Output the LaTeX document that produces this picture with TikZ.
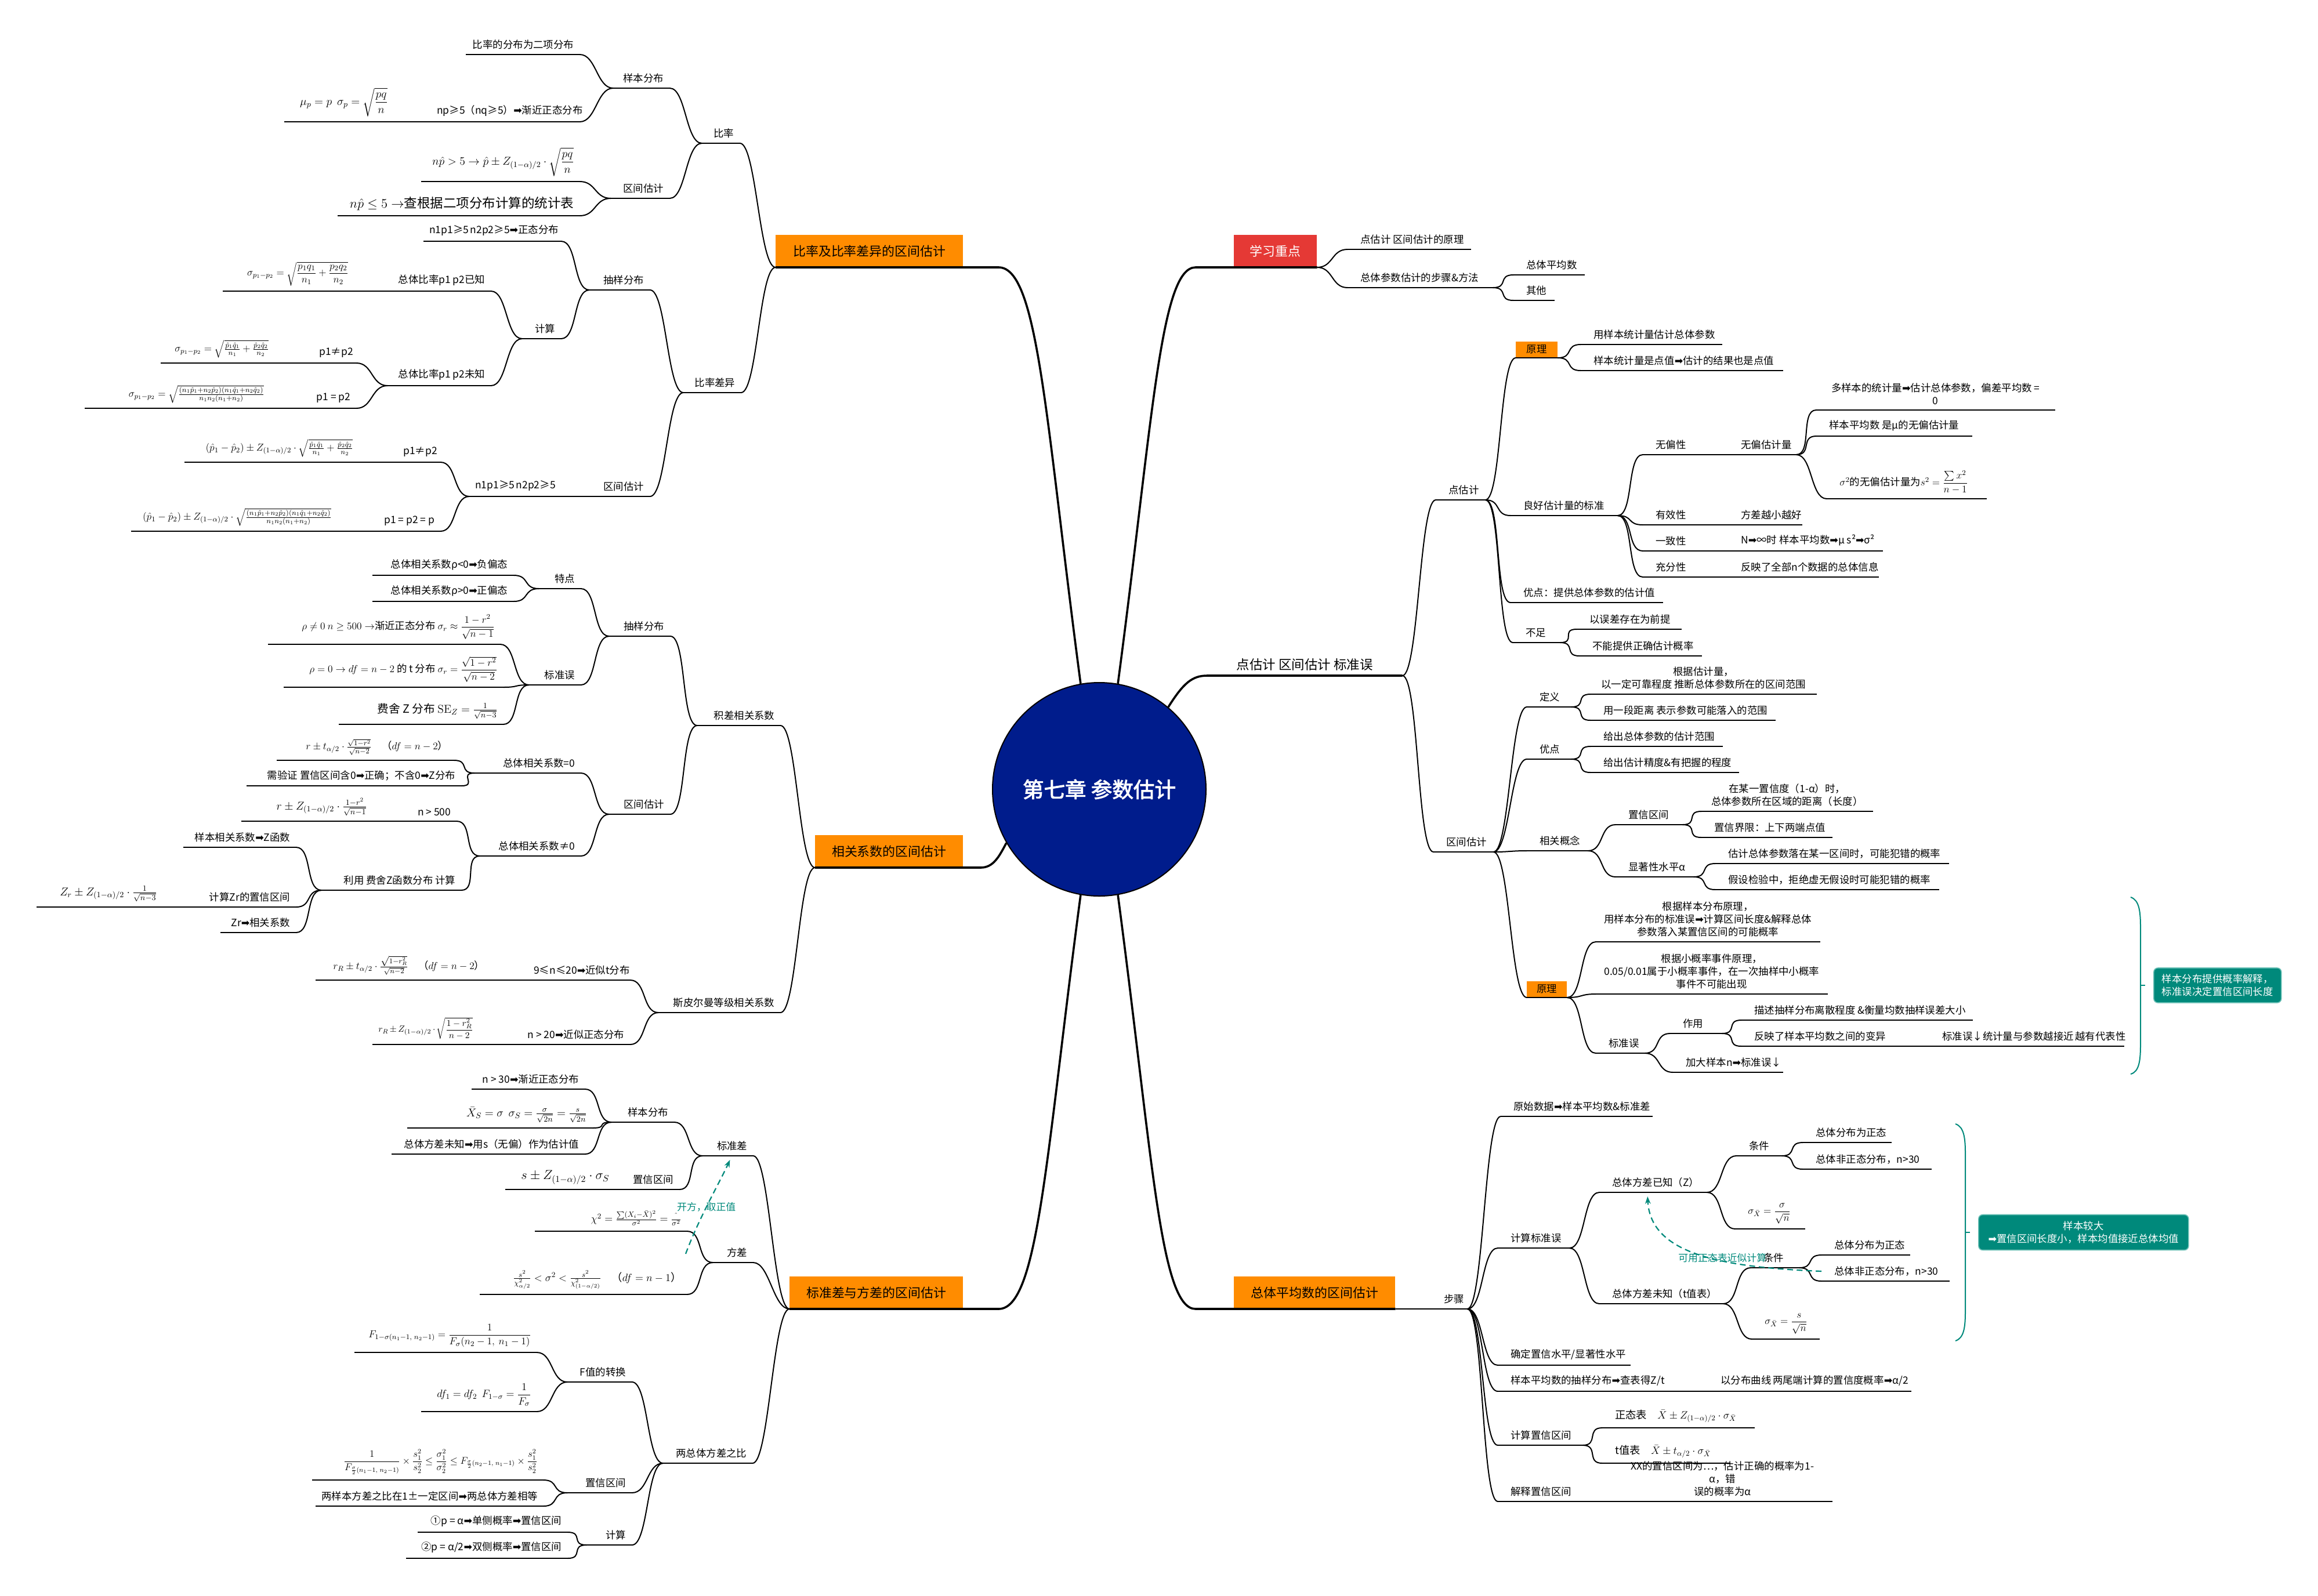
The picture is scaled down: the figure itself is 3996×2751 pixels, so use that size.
\RequirePackage{fix-cm}
\documentclass[tikz,border=0pt]{standalone}
\usepackage{amsmath}
\usepackage[no-math]{fontspec}
\setmainfont{Noto Sans CJK SC}[AutoFakeBold=2.5]
\newfontfamily\djv{DejaVu Sans}
\usetikzlibrary{arrows.meta}
\definecolor{mmorange}{HTML}{FF8C00}
\definecolor{mmred}{HTML}{E53935}
\definecolor{mmnavy}{HTML}{001C8C}
\definecolor{mmteal}{HTML}{00897B}
\definecolor{mmtealedge}{HTML}{6CC0B6}
\newcommand\ra{{\djv ➡}}
\newcommand\eqs{\char"3D\relax}
\newcommand\mmleaf[6]{%
  \pgfmathsetmacro\mmw{(#4-#3)*0.25-5}\relax
  \node[#1,text width=\mmw mm] (#2) at (#3,#5) {#6};\relax
  \draw[uline] (#2.south west) -- (#2.south east);\relax}
\relpenalty=10000
\binoppenalty=10000

\begin{document}
\begin{tikzpicture}
[%%%%%%%%%%%%%%%%%%%%%%%%%%%%%%
x=0.25mm, y=-0.25mm,
leaf/.style={anchor=south west, inner ysep=2.2mm, inner xsep=2.5mm, font=\fontsize{12.4}{15.5}\selectfont},
lleaf/.style={leaf, align=flush right},
rleaf/.style={leaf, align=flush left, execute at begin node={\noindent\hspace*{3mm}}},
cleaf/.style={leaf, align=flush center},
tag/.style={fill=mmorange, inner ysep=1.6mm},
uline/.style={line width=0.6mm},
link/.style={line width=0.5mm},
trunk/.style={line width=0.9mm},
topic/.style={anchor=south west, fill=mmorange, minimum height=14mm, inner sep=0pt, font=\fontsize{15.6}{18}\selectfont},
rel/.style={mmteal, line width=0.55mm, dash pattern=on 2.5mm off 1.6mm, -{Stealth[length=3.2mm,width=2.4mm]}},
rlabel/.style={inner sep=0.5mm, font=\fontsize{12}{14}\selectfont},
brace/.style={mmteal, line width=0.5mm},
note/.style={fill=mmteal, draw=mmtealedge, line width=0.4mm, rounded corners=1.8mm, text=white, align=center, inner sep=1mm, font=\fontsize{12.4}{15.5}\selectfont},
]%%%%%%%%%%%%%%%%%%%%%%%%%%%%%%
\useasboundingbox (0,0) rectangle (3996,2751);

% centre and main branches
\node[circle, fill=mmnavy, draw=black, line width=0.5mm, minimum size=92mm, text=white, font=\bfseries\fontsize{26}{30}\selectfont] (core) at (1895,1361) {第七章~参数估计};

\node[topic, minimum width=80.75mm] (b1) at (1337,461) {比率及比率差异的区间估计};
\node[topic, fill=mmred, text=white, minimum width=35.75mm] (b2) at (2127,461) {学习重点};
\node[topic, minimum width=63.75mm] (b4) at (1405,1496) {相关系数的区间估计};
\node[topic, minimum width=74.75mm] (b5) at (1361,2257) {标准差与方差的区间估计};
\node[topic, minimum width=69.5mm] (b6) at (2127,2257) {总体平均数的区间估计};
\mmleaf{cleaf,font=\fontsize{16}{18}\selectfont}{b3}{2081}{2417}{1165}{点估计~区间估计~标准误}

\draw[trunk] (core.100) .. controls (1803,728) and (1790,461) .. ([xshift=15.25mm]b1.south east) -- (b1.south west);
\draw[trunk] (core.80) .. controls (1987,728) and (2000,461) .. ([xshift=-16.5mm]b2.south west) -- (b2.south east);
\draw[trunk] (core.210) .. controls (1722,1478) and (1712,1496) .. ([xshift=7.5mm]b4.south east) -- (b4.south west);
\draw[trunk] (core.260) .. controls (1803,1994) and (1790,2257) .. ([xshift=15.25mm]b5.south east) -- (b5.south west);
\draw[trunk] (core.280) .. controls (1987,1994) and (2000,2257) .. ([xshift=-16.5mm]b6.south west) -- (b6.south east);
\draw[trunk] (core.50) .. controls (2040,1178) and (2055,1165) .. (b3.south west) -- (b3.south east);

% ratio
\mmleaf{lleaf}{r1}{1210}{1275}{247}{比率}
\mmleaf{lleaf}{r1s}{1057}{1154}{152}{样本分布}
\mmleaf{lleaf}{r1a}{803}{999}{94}{比率的分布为二项分布}
\mmleaf{lleaf}{r1b}{743}{999}{210}{np≥5（nq≥5）\ra{}渐近正态分布}
\mmleaf{lleaf,font=\fontsize{14}{17}\selectfont}{r1c}{490}{678}{210}{$\mu_p=p\ \ \sigma_p=\sqrt{\dfrac{pq}{n}}$}
\mmleaf{lleaf}{r1i}{1053}{1154}{342}{区间估计}
\mmleaf{lleaf,font=\fontsize{14}{17}\selectfont}{r1d}{726}{999}{313}{$n\hat{p}>5\rightarrow\hat{p}\pm Z_{(1-\alpha)/2}\cdot\sqrt{\dfrac{pq}{n}}$}
\mmleaf{lleaf,font=\fontsize{16}{19}\selectfont}{r1e}{582}{999}{372}{$n\hat{p}\leq5\rightarrow$查根据二项分布计算的统计表}

\mmleaf{lleaf}{d8}{1178}{1277}{677}{比率差异}
\mmleaf{lleaf}{d2}{1016}{1120}{500}{抽样分布}
\mmleaf{lleaf}{d1}{730}{967}{416}{n1p1≥5~n2p2≥5\ra{}正态分布}
\mmleaf{lleaf}{d4}{900}{967}{584}{计算}
\mmleaf{lleaf}{d3}{672}{846}{502}{总体比率p1~p2已知}
\mmleaf{lleaf}{d3f}{384}{610}{502}{$\sigma_{p_1-p_2}=\sqrt{\dfrac{p_1q_1}{n_1}+\dfrac{p_2q_2}{n_2}}$}
\mmleaf{lleaf}{d5}{668}{846}{665}{总体比率p1~p2未知}
\mmleaf{lleaf}{d6}{540}{614}{626}{p1≠p2}
\mmleaf{lleaf}{d6f}{277}{473}{626}{$\sigma_{p_1-p_2}=\sqrt{\frac{\hat{p}_1\hat{q}_1}{n_1}+\frac{\hat{p}_2\hat{q}_2}{n_2}}$}
\mmleaf{lleaf}{d7}{531}{614}{704}{p1~\eqs~p2}

\mmleaf{lleaf}{d7f}{146}{465}{704}{$\sigma_{p_1-p_2}=\sqrt{\frac{(n_1\hat{p}_1+n_2\hat{p}_2)(n_1\hat{q}_1+n_2\hat{q}_2)}{n_1n_2(n_1+n_2)}}$}

\mmleaf{lleaf}{d9}{1027}{1120}{856}{区间估计}
\mmleaf{lleaf}{d10}{809}{962}{856}{n1p1≥5~n2p2≥5}
\mmleaf{lleaf}{d11}{685}{759}{797}{p1≠p2}

\mmleaf{lleaf}{d11f}{318}{618}{797}{$(\hat{p}_1-\hat{p}_2)\pm Z_{(1-\alpha)/2}\cdot\sqrt{\frac{\hat{p}_1\hat{q}_1}{n_1}+\frac{\hat{p}_2\hat{q}_2}{n_2}}$}

\mmleaf{lleaf}{d12}{647}{759}{916}{p1~\eqs~p2~\eqs~p}

\mmleaf{lleaf}{d12f}{226}{581}{916}{$(\hat{p}_1-\hat{p}_2)\pm Z_{(1-\alpha)/2}\cdot\sqrt{\frac{(n_1\hat{p}_1+n_2\hat{p}_2)(n_1\hat{q}_1+n_2\hat{q}_2)}{n_1n_2(n_1+n_2)}}$}

% correlation
\mmleaf{lleaf}{c9}{1202}{1345}{1251}{积差相关系数}
\mmleaf{lleaf}{c4}{1050}{1155}{1097}{抽样分布}
\mmleaf{lleaf}{c3}{929}{1001}{1015}{特点}
\mmleaf{lleaf}{c1}{642}{885}{992}{总体相关系数ρ<0\ra{}负偏态}
\mmleaf{lleaf}{c2}{642}{885}{1037}{总体相关系数ρ>0\ra{}正偏态}
\mmleaf{lleaf}{c7}{912}{1001}{1181}{标准误}
\mmleaf{lleaf}{c5}{462}{862}{1111}{$\rho\neq0\ n\geq500\rightarrow$渐近正态分布~$\sigma_r\approx\dfrac{1-r^2}{\sqrt{n-1}}$}
\mmleaf{lleaf}{c6}{489}{867}{1185}{$\rho=0\rightarrow df=n-2$~的~t~分布~$\sigma_r=\dfrac{\sqrt{1-r^2}}{\sqrt{n-2}}$}
\mmleaf{lleaf,font=\fontsize{14}{17}\selectfont}{c8}{584}{867}{1249}{费舍~Z~分布~$\mathrm{SE}_Z=\frac{1}{\sqrt{n-3}}$}
\mmleaf{lleaf}{c13}{1050}{1155}{1404}{区间估计}
\mmleaf{lleaf}{c12}{818}{1001}{1333}{总体相关系数\eqs{}0}
\mmleaf{lleaf}{c10}{477}{782}{1311}{$r\pm t_{\alpha/2}\cdot\frac{\sqrt{1-r^2}}{\sqrt{n-2}}$\quad{}（$df=n-2$）}
\mmleaf{lleaf}{c11}{425}{795}{1355}{需验证~置信区间含0\ra{}正确；不含0\ra{}Z分布}
\mmleaf{lleaf}{c15}{827}{1001}{1476}{总体相关系数≠0}
\mmleaf{lleaf}{c14}{708}{787}{1416}{n~>~500}
\mmleaf{lleaf,font=\fontsize{14}{17}\selectfont}{c14f}{416}{642}{1416}{$r\pm Z_{(1-\alpha)/2}\cdot\frac{1-r^2}{\sqrt{n-1}}$}
\mmleaf{lleaf}{c17}{554}{795}{1535}{利用~费舍Z函数分布~计算}
\mmleaf{lleaf}{c16}{316}{510}{1461}{样本相关系数\ra{}Z函数}
\mmleaf{lleaf}{c18}{345}{510}{1564}{计算Zr的置信区间}
\mmleaf{lleaf,font=\fontsize{14}{17}\selectfont}{c18f}{63}{280}{1564}{$Z_r\pm Z_{(1-\alpha)/2}\cdot\frac{1}{\sqrt{n-3}}$}
\mmleaf{lleaf}{c19}{380}{510}{1608}{Zr\ra{}相关系数}
\mmleaf{lleaf}{s2}{1135}{1345}{1746}{斯皮尔曼等级相关系数}
\mmleaf{lleaf}{s1}{910}{1086}{1690}{9≤n≤20\ra{}近似t分布}
\mmleaf{lleaf}{s1f}{544}{845}{1690}{$r_R\pm t_{\alpha/2}\cdot\frac{\sqrt{1-r_R^2}}{\sqrt{n-2}}$\quad{}（$df=n-2$）}
\mmleaf{lleaf}{s3}{889}{1086}{1801}{n~>~20\ra{}近似正态分布}
\mmleaf{lleaf,font=\fontsize{11}{13}\selectfont}{s3f}{642}{825}{1801}{$r_R\pm Z_{(1-\alpha)/2}\cdot\sqrt{\dfrac{1-r_R^2}{n-2}}$}

% standard deviation and variance
\mmleaf{lleaf}{v5}{1211}{1298}{1993}{标准差}
\mmleaf{lleaf}{v4}{1054}{1162}{1935}{样本分布}
\mmleaf{lleaf}{v1}{813}{1008}{1878}{n~>~30\ra{}渐近正态分布}
\mmleaf{lleaf,font=\fontsize{14}{17}\selectfont}{v2}{702}{1021}{1945}{$\bar{X}_S=\sigma\ \ \sigma_S=\frac{\sigma}{\sqrt{2n}}=\frac{s}{\sqrt{2n}}$}
\mmleaf{lleaf}{v3}{675}{1008}{1990}{总体方差未知\ra{}用s（无偏）作为估计值}
\mmleaf{lleaf}{v6}{1070}{1171}{2051}{置信区间}
\mmleaf{lleaf,font=\fontsize{16}{19}\selectfont}{v6f}{871}{1060}{2051}{$s\pm Z_{(1-\alpha)/2}\cdot\sigma_S$}
\mmleaf{lleaf}{v8}{1229}{1298}{2177}{方差}
\mmleaf{lleaf,font=\fontsize{13}{16}\selectfont}{v7}{922}{1184}{2123}{$\chi^2=\frac{\sum(X_i-\bar{X})^2}{\sigma^2}=\frac{\hat{\ }}{\sigma^2}$\hspace*{6mm}}
\mmleaf{lleaf,font=\fontsize{13}{16}\selectfont}{v9}{827}{1184}{2232}{$\frac{s^2}{\chi^2_{\alpha/2}}<\sigma^2<\frac{s^2}{\chi^2_{(1-\alpha/2)}}$\quad{}（$df=n-1$）}
\mmleaf{lleaf}{v10}{1143}{1297}{2523}{两总体方差之比}
\mmleaf{lleaf}{v12}{978}{1089}{2383}{F值的转换}
\mmleaf{lleaf}{v11}{611}{925}{2332}{$F_{1-\sigma(n_1-1,\ n_2-1)}=\dfrac{1}{F_\sigma(n_2-1,\ n_1-1)}$}
\mmleaf{lleaf,font=\fontsize{13}{16}\selectfont}{v13}{726}{925}{2434}{$df_1=df_2\ \ F_{1-\sigma}=\dfrac{1}{F_\sigma}$}
\mmleaf{lleaf}{v15}{978}{1089}{2574}{置信区间}
\mmleaf{lleaf,font=\fontsize{12}{14}\selectfont}{v14}{538}{936}{2552}{$\dfrac{1}{F_{\frac{\sigma}{2}(n_1-1,\ n_2-1)}}\times\dfrac{s_1^2}{s_2^2}\leq\dfrac{\sigma_1^2}{\sigma_2^2}\leq F_{\frac{\sigma}{2}(n_2-1,\ n_1-1)}\times\dfrac{s_1^2}{s_2^2}$}
\mmleaf{lleaf}{v16}{544}{936}{2597}{两样本方差之比在1±一定区间\ra{}两总体方差相等}
\mmleaf{lleaf}{v18}{1011}{1089}{2664}{计算}
\mmleaf{lleaf}{v17}{720}{978}{2642}{①p~\eqs~α\ra{}单侧概率\ra{}置信区间}
\mmleaf{lleaf}{v19}{700}{978}{2687}{②p~\eqs~α/2\ra{}双侧概率\ra{}置信区间}

% key points
\mmleaf{rleaf}{k1}{2323}{2535}{430}{点估计~区间估计的原理}
\mmleaf{rleaf}{k2}{2323}{2573}{496}{总体参数估计的步骤\&方法}
\mmleaf{rleaf}{k3}{2609}{2731}{474}{总体平均数}
\mmleaf{rleaf}{k4}{2609}{2679}{518}{其他}

% point estimate
\mmleaf{rleaf}{p0}{2475}{2560}{862}{点估计}
\mmleaf{cleaf,tag}{p1}{2613}{2685}{617}{原理}
\mmleaf{rleaf}{p2}{2725}{2968}{594}{用样本统计量估计总体参数}
\mmleaf{rleaf}{p3}{2725}{3073}{639}{样本统计量是点值\ra{}估计的结果也是点值}
\mmleaf{rleaf}{p4}{2604}{2788}{889}{良好估计量的标准}
\mmleaf{rleaf}{p5}{2832}{2914}{784}{无偏性}
\mmleaf{rleaf}{p5a}{2979}{3096}{784}{无偏估计量}
\mmleaf{cleaf}{p6}{3131}{3542}{707}{多样本的统计量\ra{}估计总体参数，偏差平均数~\eqs\\0}
\mmleaf{rleaf}{p7}{3131}{3399}{752}{样本平均数~是μ的无偏估计量}
\mmleaf{rleaf}{p8}{3149}{3424}{860}{$\sigma^2$的无偏估计量为$s^2=\dfrac{\sum x^2}{n-1}$}
\mmleaf{rleaf}{p9}{2832}{2914}{905}{有效性}
\mmleaf{rleaf}{p9a}{2979}{3106}{905}{方差越小越好}
\mmleaf{rleaf}{p10}{2832}{2914}{950}{一致性}
\mmleaf{rleaf}{p10a}{2979}{3245}{950}{N\ra{}∞时~样本平均数\ra{}μ~s²\ra{}σ²}
\mmleaf{rleaf}{p11}{2832}{2914}{995}{充分性}
\mmleaf{rleaf}{p11a}{2979}{3238}{995}{反映了全部n个数据的总体信息}
\mmleaf{rleaf}{p12}{2604}{2866}{1039}{优点：提供总体参数的估计值}
\mmleaf{rleaf}{p13}{2608}{2689}{1108}{不足}
\mmleaf{rleaf}{p14}{2718}{2898}{1085}{以误差存在为前提}
\mmleaf{rleaf}{p15}{2723}{2933}{1131}{不能提供正确估计概率}

% interval estimate
\mmleaf{rleaf}{q0}{2471}{2574}{1469}{区间估计}
\mmleaf{rleaf}{q1}{2632}{2708}{1219}{定义}
\mmleaf{cleaf}{q2}{2742}{3131}{1197}{根据估计量，\\以一定可靠程度~推断总体参数所在的区间范围}
\mmleaf{rleaf}{q3}{2742}{3060}{1242}{用一段距离~表示参数可能落入的范围}
\mmleaf{rleaf}{q4}{2632}{2708}{1309}{优点}
\mmleaf{rleaf}{q5}{2742}{2969}{1287}{给出总体参数的估计范围}
\mmleaf{rleaf}{q6}{2742}{2997}{1332}{给出估计精度\&有把握的程度}
\mmleaf{rleaf}{q7}{2632}{2737}{1467}{相关概念}
\mmleaf{rleaf}{q8}{2785}{2900}{1422}{置信区间}
\mmleaf{cleaf}{q9}{2933}{3228}{1399}{在某一置信度（1-α）时，\\总体参数所在区域的距离（长度）}
\mmleaf{rleaf}{q10}{2933}{3158}{1444}{置信界限：上下两端点值}
\mmleaf{rleaf}{q11}{2785}{2919}{1512}{显著性水平α}
\mmleaf{rleaf}{q12}{2957}{3359}{1489}{估计总体参数落在某一区间时，可能犯错的概率}
\mmleaf{rleaf}{q13}{2957}{3342}{1534}{假设检验中，拒绝虚无假设时可能犯错的概率}
\mmleaf{cleaf,tag}{q14}{2632}{2701}{1720}{原理}
\mmleaf{cleaf}{q15}{2751}{3137}{1624}{根据样本分布原理，\\用样本分布的标准误\ra{}计算区间长度\&解释总体\\参数落入某置信区间的可能概率}
\mmleaf{cleaf}{q16}{2751}{3150}{1714}{根据小概率事件原理，\\0.05/0.01属于小概率事件，在一次抽样中小概率\\事件不可能出现}
\mmleaf{rleaf}{q17}{2751}{2835}{1816}{标准误}
\mmleaf{rleaf}{q18}{2879}{2968}{1782}{作用}
\mmleaf{rleaf}{q19}{3002}{3400}{1759}{描述抽样分布离散程度~\&衡量均数抽样误差大小}
\mmleaf{rleaf}{q20}{3002}{3262}{1804}{反映了样本平均数之间的变异}
\mmleaf{rleaf}{q21}{3326}{3661}{1804}{标准误↓统计量与参数越接近~越有代表性}
\mmleaf{rleaf}{q22}{2884}{3073}{1849}{加大样本n\ra{}标准误↓}

% population mean
\mmleaf{rleaf}{m0}{2467}{2529}{2257}{步骤}
\mmleaf{rleaf}{m1}{2587}{2848}{1925}{原始数据\ra{}样本平均数\&标准差}
\mmleaf{rleaf}{m2}{2582}{2705}{2152}{计算标准误}
\mmleaf{rleaf}{m3}{2757}{2942}{2056}{总体方差已知（Z）}
\mmleaf{rleaf}{m4}{2993}{3071}{1993}{条件}
\mmleaf{rleaf}{m5}{3108}{3260}{1970}{总体分布为正态}
\mmleaf{rleaf}{m6}{3108}{3329}{2016}{总体非正态分布，n>30}
\mmleaf{rleaf}{m7}{2991}{3111}{2119}{$\sigma_{\bar{X}}=\dfrac{\sigma}{\sqrt{n}}$}
\mmleaf{rleaf}{m8}{2757}{2970}{2248}{总体方差未知（t值表）}
\mmleaf{rleaf}{m9}{3018}{3101}{2186}{条件}
\mmleaf{rleaf}{m10}{3140}{3292}{2164}{总体分布为正态}
\mmleaf{rleaf}{m11}{3140}{3360}{2209}{总体非正态分布，n>30}
\mmleaf{rleaf}{m12}{3020}{3136}{2309}{$\sigma_{\bar{X}}=\dfrac{s}{\sqrt{n}}$}
\mmleaf{rleaf}{m13}{2582}{2810}{2354}{确定置信水平/显著性水平}
\mmleaf{rleaf}{m14}{2582}{2879}{2399}{样本平均数的抽样分布\ra{}查表得Z/t}
\mmleaf{rleaf}{m15}{2944}{3294}{2399}{以分布曲线~两尾端计算的置信度概率\ra{}α/2}
\mmleaf{rleaf}{m16}{2582}{2728}{2492}{计算置信区间}
\mmleaf{rleaf,font=\fontsize{13}{16}\selectfont}{m17}{2762}{3024}{2462}{正态表\quad{}$\bar{X}\pm Z_{(1-\alpha)/2}\cdot\sigma_{\bar{X}}$}
\mmleaf{rleaf,font=\fontsize{13}{16}\selectfont}{m18}{2762}{2982}{2523}{t值表\quad{}$\bar{X}\pm t_{\alpha/2}\cdot\sigma_{\bar{X}}$}
\mmleaf{rleaf}{m19}{2582}{2716}{2589}{解释置信区间}
\mmleaf{cleaf}{m20}{2780}{3158}{2589}{XX的置信区间为…，估计正确的概率为1-α，错\\误的概率为α}

% connectors
\foreach \a/\b in {b1/r1,b1/d8,r1/r1s,r1/r1i,r1s/r1a,r1s/r1b,r1b/r1c,r1i/r1d,r1i/r1e,
  d8/d2,d8/d9,d2/d1,d2/d4,d4/d3,d4/d5,d3/d3f,d5/d6,d5/d7,d6/d6f,d7/d7f,d9/d10,d10/d11,d10/d12,d11/d11f,d12/d12f,
  b4/c9,b4/s2,c9/c4,c9/c13,c4/c3,c4/c7,c3/c1,c3/c2,c7/c5,c7/c6,c7/c8,c13/c12,c13/c15,c12/c10,c12/c11,
  c15/c14,c15/c17,c14/c14f,c17/c16,c17/c18,c17/c19,c18/c18f,s2/s1,s2/s3,s1/s1f,s3/s3f,
  b5/v5,b5/v8,b5/v10,v5/v4,v5/v6,v4/v1,v4/v2,v4/v3,v6/v6f,v8/v7,v8/v9,v10/v12,v10/v15,v10/v18,
  v12/v11,v12/v13,v15/v14,v15/v16,v18/v17,v18/v19}
  \draw[link] (\a.south west) .. controls +(-7mm,0) and +(7mm,0) .. (\b.south east);
\foreach \a/\b in {b2/k1,b2/k2,k2/k3,k2/k4,b3/p0,b3/q0,p0/p1,p0/p4,p0/p12,p0/p13,p1/p2,p1/p3,
  p4/p5,p4/p9,p4/p10,p4/p11,p5/p5a,p5a/p6,p5a/p7,p5a/p8,p9/p9a,p10/p10a,p11/p11a,p13/p14,p13/p15,
  q0/q1,q0/q4,q0/q7,q0/q14,q1/q2,q1/q3,q4/q5,q4/q6,q7/q8,q7/q11,q8/q9,q8/q10,q11/q12,q11/q13,
  q14/q15,q14/q16,q14/q17,q17/q18,q17/q22,q18/q19,q18/q20,q20/q21,
  b6/m0,m0/m1,m0/m2,m0/m13,m0/m14,m0/m16,m0/m19,m2/m3,m2/m8,m3/m4,m3/m7,m4/m5,m4/m6,
  m8/m9,m8/m12,m9/m10,m9/m11,m14/m15,m16/m17,m16/m18,m19/m20}
  \draw[link] (\a.south east) .. controls +(7mm,0) and +(-7mm,0) .. (\b.south west);

% relations
\draw[rel] ([xshift=-11.75mm,yshift=3.75mm]v8.south west) .. controls (1205,2100) and (1240,2040) .. ([xshift=0.9mm,yshift=-1.75mm]v5.south)
  node[rlabel, pos=0.45] {开方，取正值};
\draw[rel] ([yshift=4.25mm]m11.south west) .. controls (2960,2185) and (2845,2160) .. ([xshift=-2.4mm,yshift=-1.75mm]m3.south)
  node[rlabel, pos=0.37, yshift=1.2mm] {可用正态表近似计算};

% summaries
\draw[brace] (3673,1547) .. controls (3688,1552) and (3690,1572) .. (3690,1600) -- (3690,1800) .. controls (3690,1828) and (3688,1848) .. (3673,1852);
\draw[brace] (3690,1699) -- (3698,1699);
\node[note, anchor=west, minimum width=55mm, minimum height=15mm] (sum1) at (3712,1699) {样本分布提供概率解释，\\标准误决定置信区间长度};
\draw[brace] (3371,1938) .. controls (3386,1943) and (3388,1963) .. (3388,1990) -- (3388,2260) .. controls (3388,2288) and (3386,2307) .. (3371,2312);
\draw[brace] (3388,2125) -- (3396,2125);
\node[note, anchor=west, minimum width=90.5mm, minimum height=15.25mm] (sum2) at (3410,2125) {样本较大\\\ra{}置信区间长度小，样本均值接近总体均值};
\end{tikzpicture}
\end{document}
